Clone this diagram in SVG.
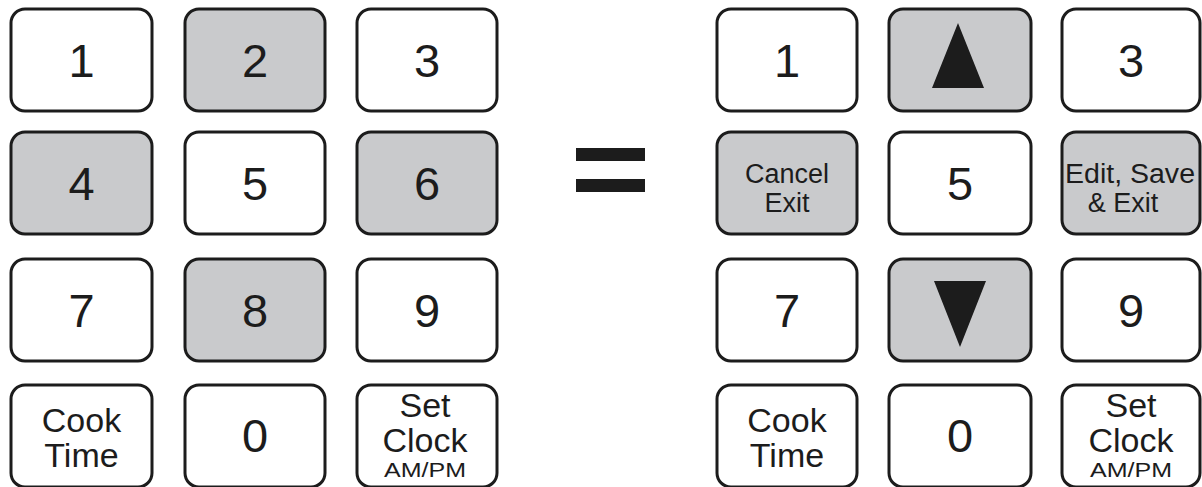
<svg xmlns="http://www.w3.org/2000/svg" width="1202" height="487" viewBox="0 0 1202 487">
<style>
.k{fill:#ffffff;stroke:#1c1c1c;stroke-width:3}
.g{fill:#c9cacc;stroke:#1c1c1c;stroke-width:3}
text{font-family:"Liberation Sans",Arial,sans-serif;fill:#1c1c1c;text-anchor:middle}
.d{font-size:47px}
.w{font-size:34px}
.s{font-size:27px}
.a{font-size:20px}
</style>
<rect width="1202" height="487" fill="#ffffff"/>
<!-- left keypad -->
<g id="L1"><rect class="k" x="11" y="9" width="141" height="102" rx="14"/><text class="d" x="81.5" y="77">1</text></g>
<g id="L2"><rect class="g" x="185" y="9" width="140" height="102" rx="14"/><text class="d" x="255" y="77">2</text></g>
<g id="L3"><rect class="k" x="357" y="9" width="140" height="102" rx="14"/><text class="d" x="427" y="77">3</text></g>
<g id="L4"><rect class="g" x="11" y="132" width="141" height="102" rx="14"/><text class="d" x="81.5" y="200">4</text></g>
<g id="L5"><rect class="k" x="185" y="132" width="140" height="102" rx="14"/><text class="d" x="255" y="200">5</text></g>
<g id="L6"><rect class="g" x="357" y="132" width="140" height="102" rx="14"/><text class="d" x="427" y="200">6</text></g>
<g id="L7"><rect class="k" x="11" y="259" width="141" height="102" rx="14"/><text class="d" x="81.5" y="327">7</text></g>
<g id="L8"><rect class="g" x="185" y="259" width="140" height="102" rx="14"/><text class="d" x="255" y="327">8</text></g>
<g id="L9"><rect class="k" x="357" y="259" width="140" height="102" rx="14"/><text class="d" x="427" y="327">9</text></g>
<g id="LCook"><rect class="k" x="11" y="385" width="141" height="102" rx="14"/><text class="w" x="81.5" y="432">Cook</text><text class="w" x="81.5" y="467">Time</text></g>
<g id="L0"><rect class="k" x="185" y="385" width="140" height="102" rx="14"/><text class="d" x="255" y="452">0</text></g>
<g id="LSet"><rect class="k" x="357" y="385" width="140" height="102" rx="14"/><text class="w" x="425" y="417">Set</text><text class="w" x="425" y="452">Clock</text><text class="a" x="425" y="477" textLength="82" lengthAdjust="spacingAndGlyphs">AM/PM</text></g>
<!-- equals -->
<g id="equals"><rect x="576" y="148" width="69" height="13" fill="#1c1c1c"/><rect x="576" y="179" width="69" height="13" fill="#1c1c1c"/></g>
<!-- right keypad -->
<g id="R1"><rect class="k" x="717" y="9" width="140" height="102" rx="14"/><text class="d" x="787" y="77">1</text></g>
<g id="RUp"><rect class="g" x="889" y="9" width="142" height="102" rx="14"/><polygon points="958,23 932,88 984,88" fill="#1c1c1c"/></g>
<g id="R3"><rect class="k" x="1062" y="9" width="138" height="102" rx="14"/><text class="d" x="1131" y="77">3</text></g>
<g id="RCancel"><rect class="g" x="717" y="132" width="140" height="102" rx="14"/><text class="s" x="787" y="183">Cancel</text><text class="s" x="787" y="212">Exit</text></g>
<g id="R5"><rect class="k" x="889" y="132" width="142" height="102" rx="14"/><text class="d" x="960" y="200">5</text></g>
<g id="REdit"><rect class="g" x="1062" y="132" width="138" height="102" rx="14"/><text class="s" x="1130" y="183" textLength="130" lengthAdjust="spacingAndGlyphs">Edit, Save</text><text class="s" x="1123" y="212">&amp; Exit</text></g>
<g id="R7"><rect class="k" x="717" y="259" width="140" height="102" rx="14"/><text class="d" x="787" y="327">7</text></g>
<g id="RDown"><rect class="g" x="889" y="259" width="142" height="102" rx="14"/><polygon points="934,281 986,281 960,347" fill="#1c1c1c"/></g>
<g id="R9"><rect class="k" x="1062" y="259" width="138" height="102" rx="14"/><text class="d" x="1131" y="327">9</text></g>
<g id="RCook"><rect class="k" x="717" y="385" width="140" height="102" rx="14"/><text class="w" x="787" y="432">Cook</text><text class="w" x="787" y="467">Time</text></g>
<g id="R0"><rect class="k" x="889" y="385" width="142" height="102" rx="14"/><text class="d" x="960" y="452">0</text></g>
<g id="RSet"><rect class="k" x="1062" y="385" width="138" height="102" rx="14"/><text class="w" x="1131" y="417">Set</text><text class="w" x="1131" y="452">Clock</text><text class="a" x="1131" y="477" textLength="82" lengthAdjust="spacingAndGlyphs">AM/PM</text></g>
<g id="connectors"/>
</svg>
